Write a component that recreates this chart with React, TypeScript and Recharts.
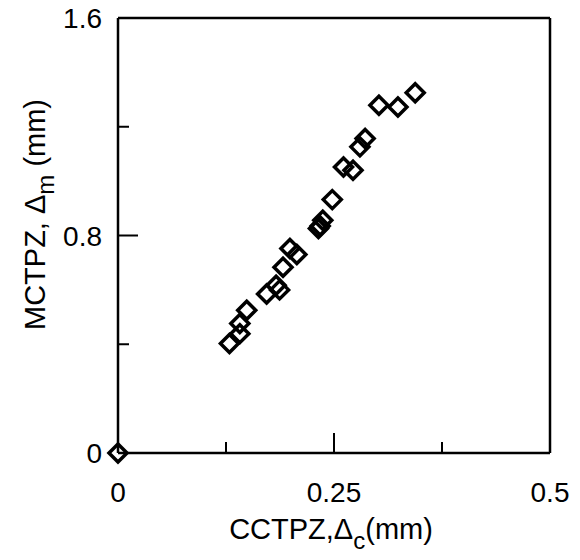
import React from 'react';
import { ScatterChart, Scatter, XAxis, YAxis } from 'recharts';

// CCTPZ (x) and MCTPZ (y) displacements, mm
const cctpz = [0, 0.129, 0.141, 0.141, 0.149, 0.172, 0.183, 0.187, 0.191, 0.199, 0.207, 0.232, 0.234, 0.237, 0.248, 0.261, 0.272, 0.28, 0.286, 0.302, 0.324, 0.344];
const mctpz = [0, 0.403, 0.439, 0.476, 0.525, 0.585, 0.617, 0.6, 0.683, 0.752, 0.73, 0.826, 0.835, 0.856, 0.932, 1.052, 1.04, 1.126, 1.157, 1.279, 1.273, 1.325];

const xTicks = [0, 0.125, 0.25, 0.375, 0.5];
const xLabeled = [0, 0.25, 0.5];
const yTicks = [0, 0.4, 0.8, 1.2, 1.6];
const yLabeled = [0, 0.8, 1.6];

const points = cctpz.map((x, i) => ({ x, y: mctpz[i] }));

const FONT = '"Liberation Sans", Arial, sans-serif';
const INK = '#000';

const Diamond = (props: any) => {
  const { cx, cy } = props;
  const r = 9;
  return (
    <path
      d={`M${cx},${cy - r} L${cx + r},${cy} L${cx},${cy + r} L${cx - r},${cy} Z`}
      fill="none"
      stroke={INK}
      strokeWidth={3.5}
    />
  );
};

const BottomTick = (props: any) => {
  const { x, y, payload } = props;
  const v = payload.value;
  const major = xLabeled.includes(v);
  const len = major ? 20 : 11;
  return (
    <g>
      {v > 0 && v < 0.5 && <line x1={x} y1={y} x2={x} y2={y - len} stroke={INK} strokeWidth={2} />}
      {major && (
        <text x={x} y={y + 49} textAnchor="middle" fontSize={28} fontFamily={FONT} fill={INK}>
          {String(v)}
        </text>
      )}
    </g>
  );
};

const TopTick = (props: any) => {
  const { x, y, payload } = props;
  const v = payload.value;
  if (v <= 0 || v >= 0.5) return <g />;
  const len = xLabeled.includes(v) ? 20 : 11;
  return <line x1={x} y1={y} x2={x} y2={y + len} stroke={INK} strokeWidth={2} />;
};

const LeftTick = (props: any) => {
  const { x, y, payload } = props;
  const v = payload.value;
  const major = yLabeled.includes(v);
  const len = major ? 20 : 11;
  return (
    <g>
      {v > 0 && v < 1.6 && <line x1={x} y1={y} x2={x + len} y2={y} stroke={INK} strokeWidth={2} />}
      {major && (
        <text x={x - 16} y={y + 10} textAnchor="end" fontSize={28} fontFamily={FONT} fill={INK}>
          {String(v)}
        </text>
      )}
    </g>
  );
};

const RightTick = (props: any) => {
  const { x, y, payload } = props;
  const v = payload.value;
  if (v <= 0 || v >= 1.6) return <g />;
  return <line x1={x} y1={y} x2={x - 11} y2={y} stroke={INK} strokeWidth={2} />;
};

const XTitle = (props: any) => {
  const { viewBox } = props;
  const cx = viewBox.x + viewBox.width / 2 - 3;
  const cy = viewBox.y + 86;
  return (
    <text x={cx} y={cy} textAnchor="middle" fontSize={29} fontFamily={FONT} fill={INK}>
      CCTPZ,Δ
      <tspan dy={10} fontSize={24}>c</tspan>
      <tspan dy={-10}>(mm)</tspan>
    </text>
  );
};

const YTitle = (props: any) => {
  const { viewBox } = props;
  const cx = viewBox.x + 45;
  const cy = viewBox.y + viewBox.height / 2 - 21;
  return (
    <text
      x={cx}
      y={cy}
      transform={`rotate(-90, ${cx}, ${cy})`}
      textAnchor="middle"
      fontSize={29}
      fontFamily={FONT}
      fill={INK}
    >
      MCTPZ, Δ
      <tspan dy={9} fontSize={24}>m</tspan>
      <tspan dy={-9}> (mm)</tspan>
    </text>
  );
};

export default function App() {
  return (
    <div style={{ background: '#fff', width: 580, height: 560, margin: '-8px 0 0 -8px' }}>
      <ScatterChart width={580} height={560} margin={{ top: 17, right: 29, left: 0, bottom: 0 }}>
        <XAxis
          xAxisId="b"
          dataKey="x"
          type="number"
          domain={[0, 0.5]}
          ticks={xTicks}
          interval={0}
          height={107}
          tickSize={0}
          tickMargin={0}
          tickLine={false}
          axisLine={{ stroke: INK, strokeWidth: 2.5 }}
          tick={(p: any) => <BottomTick {...p} />}
          label={(p: any) => <XTitle {...p} />}
        />
        <XAxis
          xAxisId="t"
          orientation="top"
          type="number"
          domain={[0, 0.5]}
          ticks={xTicks}
          interval={0}
          height={1}
          tickSize={0}
          tickMargin={0}
          tickLine={false}
          axisLine={{ stroke: INK, strokeWidth: 2.5 }}
          tick={(p: any) => <TopTick {...p} />}
        />
        <YAxis
          yAxisId="l"
          dataKey="y"
          type="number"
          domain={[0, 1.6]}
          ticks={yTicks}
          interval={0}
          width={118}
          tickSize={0}
          tickMargin={0}
          tickLine={false}
          axisLine={{ stroke: INK, strokeWidth: 2.5 }}
          tick={(p: any) => <LeftTick {...p} />}
          label={(p: any) => <YTitle {...p} />}
        />
        <YAxis
          yAxisId="r"
          orientation="right"
          type="number"
          domain={[0, 1.6]}
          ticks={yTicks}
          interval={0}
          width={1}
          tickSize={0}
          tickMargin={0}
          tickLine={false}
          axisLine={{ stroke: INK, strokeWidth: 2.5 }}
          tick={(p: any) => <RightTick {...p} />}
        />
        <Scatter data={points} xAxisId="b" yAxisId="l" shape={Diamond} isAnimationActive={false} />
      </ScatterChart>
    </div>
  );
}
